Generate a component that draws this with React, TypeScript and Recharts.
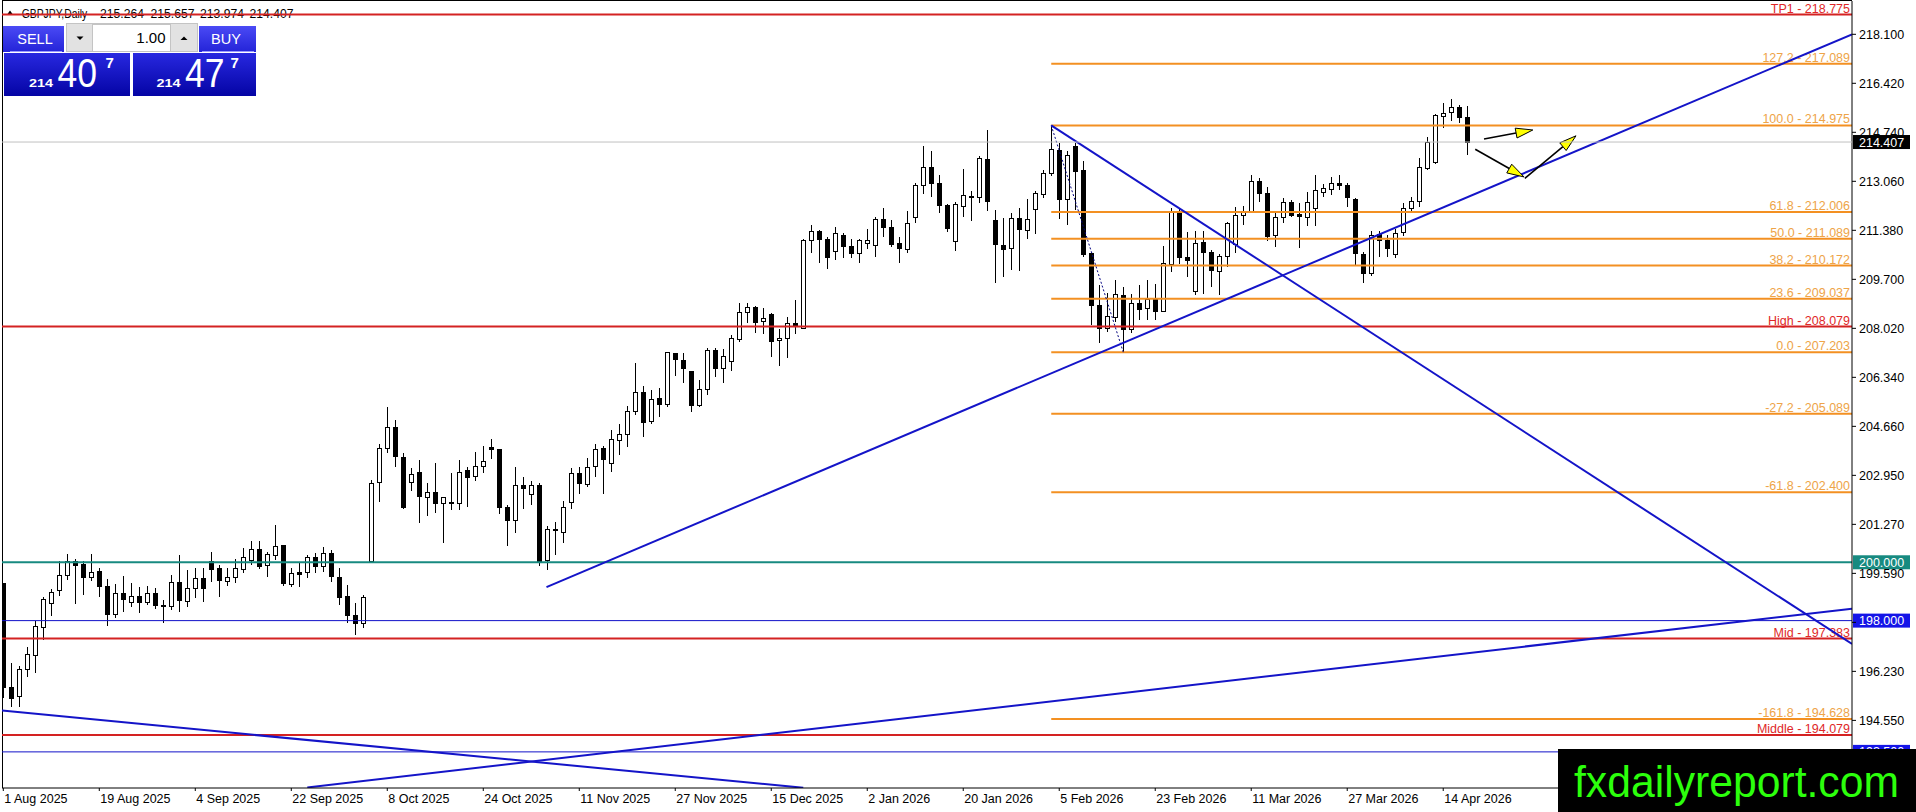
import React from 'react';
import { ComposedChart, Bar, XAxis, YAxis, ReferenceLine } from 'recharts';

const FONT = '"Liberation Sans", Arial, sans-serif';

// daily bars, 1 Aug 2025 .. 17 Apr 2026 (index = bar number)
const opens = [
  199.28, 195.74, 195.39, 196.33, 196.81, 197.77, 198.59, 199.02, 199.55, 200.05,
  199.94, 199.51, 199.70, 199.19, 198.23, 198.94, 198.65, 198.84, 198.65, 198.94,
  198.54, 198.50, 199.33, 198.68, 199.11, 199.45, 200.05, 199.79, 199.37, 199.49,
  199.79, 200.08, 200.45, 199.88, 200.27, 200.58, 199.26, 199.66, 199.66, 200.19,
  199.88, 200.31, 199.51, 198.84, 198.19, 197.91, 200.05, 202.73, 203.94, 204.63,
  203.62, 202.76, 203.08, 202.25, 202.42, 202.04, 202.08, 202.06, 203.16, 202.97,
  203.30, 203.94, 203.87, 201.88, 201.43, 202.64, 202.33, 202.64, 200.08, 201.13,
  201.05, 202.04, 203.05, 202.71, 203.30, 203.91, 203.39, 204.21, 204.40, 205.20,
  205.85, 204.85, 205.62, 205.43, 207.16, 206.93, 206.55, 205.38, 205.93, 207.28,
  206.68, 206.90, 207.68, 208.59, 208.76, 208.25, 208.51, 207.60, 207.68, 208.21,
  208.02, 211.07, 211.37, 211.07, 210.65, 211.21, 210.84, 210.61, 210.96, 210.88,
  211.77, 211.48, 210.94, 210.73, 211.85, 212.93, 213.54, 212.99, 212.25, 211.01,
  212.19, 212.55, 212.53, 213.81, 211.73, 210.88, 210.76, 211.79, 211.39, 212.10,
  212.62, 213.34, 214.13, 212.44, 214.27, 213.45, 210.61, 208.82, 208.02, 208.40,
  209.17, 207.99, 208.88, 208.71, 209.02, 208.62, 210.22, 212.00, 210.45, 209.31,
  210.99, 210.65, 209.99, 210.50, 210.91, 211.91, 212.05, 213.07, 212.65, 211.25,
  211.85, 212.36, 211.93, 211.85, 212.14, 212.70, 212.82, 213.01, 212.92, 212.44,
  210.57, 209.93, 211.24, 211.05, 210.57, 211.33, 212.14, 212.39, 213.54, 213.73,
  215.30, 215.43, 215.60, 215.264,
];
const highs = [
  199.30, 196.54, 196.45, 197.09, 198.00, 198.82, 199.10, 200.05, 200.28, 200.10,
  200.05, 200.28, 199.79, 199.43, 199.25, 199.53, 199.28, 199.16, 199.19, 199.11,
  198.71, 199.56, 200.25, 199.74, 199.79, 199.79, 200.36, 199.91, 199.79, 200.10,
  200.48, 200.74, 200.74, 200.34, 201.28, 200.60, 199.79, 199.97, 200.25, 200.33,
  200.51, 200.42, 199.79, 199.22, 198.59, 198.88, 202.82, 204.05, 205.31, 204.88,
  203.73, 203.22, 203.51, 202.71, 203.42, 202.25, 203.07, 203.51, 203.28, 203.77,
  203.98, 204.21, 203.90, 201.96, 203.26, 202.93, 202.79, 202.73, 201.24, 201.39,
  202.11, 203.22, 203.26, 203.56, 204.05, 203.98, 204.53, 204.74, 205.36, 206.84,
  206.04, 205.91, 205.97, 207.22, 207.19, 207.19, 206.57, 206.25, 207.34, 207.34,
  207.30, 207.79, 208.90, 208.88, 208.78, 208.71, 208.56, 207.99, 208.40, 209.00,
  211.07, 211.56, 211.38, 211.16, 211.48, 211.30, 211.07, 211.09, 211.42, 211.85,
  212.16, 211.73, 211.16, 212.04, 213.01, 214.27, 214.10, 213.28, 212.28, 212.36,
  213.47, 212.73, 213.93, 214.82, 212.08, 211.79, 211.98, 212.13, 212.44, 212.74,
  213.45, 214.975, 214.36, 214.11, 214.36, 213.77, 210.61, 209.51, 209.22, 209.68,
  209.45, 209.20, 209.51, 209.68, 209.54, 210.84, 212.13, 212.13, 211.33, 211.37,
  211.37, 210.70, 210.56, 211.67, 212.17, 212.21, 213.28, 213.16, 212.85, 212.02,
  212.48, 212.42, 212.33, 212.70, 213.28, 212.97, 213.20, 213.28, 213.01, 212.48,
  210.65, 211.37, 211.37, 211.22, 211.42, 212.31, 212.53, 213.85, 214.57, 215.37,
  215.75, 215.87, 215.68, 215.657,
];
const lows = [
  195.34, 195.03, 195.03, 196.08, 196.22, 197.34, 198.16, 198.84, 199.39, 198.57,
  198.87, 199.37, 198.80, 197.83, 198.10, 198.31, 198.46, 198.25, 198.54, 198.39,
  197.93, 198.36, 198.31, 198.48, 198.77, 198.65, 199.33, 198.80, 199.20, 199.30,
  199.64, 199.91, 199.76, 199.49, 200.08, 199.20, 199.14, 199.14, 199.45, 199.62,
  199.68, 199.33, 198.54, 197.91, 197.51, 197.74, 200.03, 202.08, 203.73, 203.28,
  201.83, 202.45, 201.33, 201.57, 201.70, 200.67, 201.79, 201.79, 201.91, 202.79,
  203.07, 203.53, 201.65, 200.56, 200.99, 201.81, 201.96, 199.87, 199.74, 200.25,
  200.65, 201.81, 202.33, 202.57, 202.93, 202.33, 203.11, 203.67, 203.96, 205.05,
  204.28, 204.74, 204.97, 205.31, 206.39, 206.14, 205.16, 205.31, 205.74, 206.34,
  206.16, 206.57, 207.56, 208.21, 207.87, 207.83, 207.05, 206.73, 206.99, 207.83,
  207.99, 210.59, 210.27, 210.04, 210.36, 210.42, 210.42, 210.25, 210.73, 210.48,
  211.16, 210.82, 210.27, 210.61, 211.62, 212.62, 212.51, 211.96, 211.33, 210.68,
  211.83, 211.71, 212.33, 212.05, 209.58, 209.79, 210.02, 209.99, 211.08, 211.25,
  212.48, 213.24, 211.76, 211.56, 212.08, 210.46, 208.13, 207.53, 207.90, 208.25,
  207.203, 207.85, 208.31, 208.31, 208.31, 208.59, 209.96, 210.22, 209.77, 209.16,
  209.20, 209.45, 209.16, 210.13, 210.59, 211.56, 211.96, 212.36, 211.02, 210.80,
  211.62, 211.85, 210.76, 211.53, 211.53, 212.53, 212.59, 212.76, 212.19, 210.19,
  209.58, 209.81, 210.45, 210.45, 210.42, 211.19, 211.98, 212.17, 213.45, 213.65,
  214.88, 215.14, 215.07, 213.974,
];
const closes = [
  195.70, 195.37, 196.33, 196.85, 197.82, 198.73, 198.98, 199.55, 200.03, 199.92,
  199.49, 199.68, 199.20, 198.23, 198.94, 198.73, 198.84, 198.65, 198.96, 198.53,
  198.55, 199.33, 198.71, 199.11, 199.45, 199.11, 199.79, 199.37, 199.49, 199.79,
  200.19, 200.45, 199.88, 200.27, 200.57, 199.28, 199.62, 199.60, 200.19, 199.88,
  200.33, 199.51, 198.84, 198.19, 197.91, 198.80, 202.73, 203.91, 204.65, 203.62,
  201.91, 203.03, 202.25, 202.42, 202.04, 202.25, 202.07, 203.11, 202.93, 203.30,
  203.47, 203.87, 201.88, 201.43, 202.64, 202.54, 202.64, 200.05, 201.13, 201.08,
  201.91, 203.05, 202.71, 203.28, 203.87, 203.53, 204.21, 204.40, 205.20, 205.85,
  204.82, 205.59, 205.43, 207.20, 206.96, 206.65, 205.38, 205.93, 207.28, 206.68,
  207.08, 207.68, 208.59, 208.76, 208.25, 208.36, 207.60, 207.68, 208.21, 208.13,
  211.05, 211.37, 211.11, 210.45, 211.28, 210.82, 210.61, 211.05, 211.05, 211.77,
  211.48, 210.91, 210.78, 211.62, 212.93, 213.54, 212.99, 212.24, 211.45, 212.27,
  212.58, 212.56, 213.85, 212.36, 210.90, 210.74, 211.79, 211.42, 211.76, 212.65,
  213.34, 214.16, 212.44, 213.96, 213.42, 210.57, 208.82, 208.02, 208.44, 209.20,
  207.99, 208.88, 208.67, 209.02, 208.62, 210.25, 212.00, 210.45, 210.36, 210.96,
  210.65, 210.04, 210.50, 211.64, 211.91, 212.05, 213.07, 212.65, 211.16, 211.85,
  212.36, 211.91, 211.85, 212.36, 212.76, 212.82, 213.01, 212.93, 212.51, 210.59,
  209.93, 211.22, 211.02, 210.76, 211.30, 212.14, 212.39, 213.54, 214.42, 215.33,
  215.39, 215.60, 215.25, 214.407,
];

// time axis: a label every 12 bars
const dateLabels = [
  '1 Aug 2025', '19 Aug 2025', '4 Sep 2025', '22 Sep 2025', '8 Oct 2025', '24 Oct 2025',
  '11 Nov 2025', '27 Nov 2025', '15 Dec 2025', '2 Jan 2026', '20 Jan 2026', '5 Feb 2026',
  '23 Feb 2026', '11 Mar 2026', '27 Mar 2026', '14 Apr 2026',
];
const dateTicks = [0, 12, 24, 36, 48, 60, 72, 84, 96, 108, 120, 132, 144, 156, 168, 180];

// price axis (197.910 and 192.870 sit under the 198.000 box and the watermark)
const priceTicks = [
  218.1, 216.42, 214.74, 213.06, 211.38, 209.7, 208.02, 206.34,
  204.66, 202.98, 201.3, 199.62, 197.94, 196.26, 194.58, 192.9,
];
const priceTickLabels = [
  '218.100', '216.420', '214.740', '213.060', '211.380', '209.700', '208.020', '206.340',
  '204.660', '202.950', '201.270', '199.590', '', '196.230', '194.550', '',
];

// fibonacci from the 5 Feb high (bar 131) to the low (bar 140)
const fibRatios = ['127.2', '100.0', '61.8', '50.0', '38.2', '23.6', '0.0', '-27.2', '-61.8', '-161.8'];
const fibPrices = [217.089, 214.975, 212.006, 211.089, 210.172, 209.037, 207.203, 205.089, 202.4, 194.628];
const fibStart = 131;
const fibEnd = 140;

const redNames = ['TP1', 'High', 'Mid', 'Middle'];
const redPrices = [218.775, 208.079, 197.383, 194.079];

const lastPrice = 214.407;
const roundLevel = 200.0;
const blueLevels = [198.0, 193.5];

// trendlines: [bar, price] pairs
const trendLines = [
  [[67.9, 199.15], [231.1, 218.1]],
  [[131, 214.975], [231.1, 197.2]],
  [[38, 192.28], [231.1, 198.41]],
  [[-0.16, 194.915], [100, 192.27]],
];
// hand-drawn arrows near the last bar
const arrows = [
  [[185.1, 214.51], [191.2, 214.82]],
  [[184.0, 214.16], [190.1, 213.21]],
  [[190.2, 213.16], [196.6, 214.62]],
];

const X_DOMAIN = [-0.1625, 231.1];
const Y_DOMAIN = [192.2618, 219.2416];

const candles = opens.map((o, i) => ({
  i,
  open: o,
  high: highs[i],
  low: lows[i],
  close: closes[i],
  range: [lows[i], highs[i]],
}));

const Candle = (props: any) => {
  const { x, y, width, height, payload } = props;
  if (!payload || height == null) return null;
  const { open, close, high, low } = payload;
  const h = Math.abs(height);
  const top0 = height >= 0 ? y : y + height;
  const cx = Math.round(x + width / 2);
  const k = h / (high - low || 1);
  const bTop = top0 + (high - Math.max(open, close)) * k;
  const bBot = top0 + (high - Math.min(open, close)) * k;
  const bull = close >= open;
  return (
    <g shapeRendering="crispEdges">
      <line x1={cx + 0.5} x2={cx + 0.5} y1={top0} y2={top0 + h} stroke="#000" strokeWidth={1} />
      <rect
        x={cx - 1.5}
        y={Math.round(bTop) + 0.5}
        width={4}
        height={Math.max(Math.round(bBot - bTop), 1)}
        fill={bull ? '#fff' : '#000'}
        stroke="#000"
        strokeWidth={1}
      />
    </g>
  );
};

const DateTick = (props: any) => {
  const { x, y, payload } = props;
  const k = dateTicks.indexOf(payload.value);
  return (
    <text x={x + 1} y={y} dy="0.71em" textAnchor="start" fontSize={12.5} fontFamily={FONT} fill="#000">
      {k >= 0 ? dateLabels[k] : ''}
    </text>
  );
};

const levelLabel = (text: string, color: string) => (props: any) => {
  const vb = props.viewBox || {};
  return (
    <text
      x={vb.x + vb.width - 2}
      y={vb.y - 2}
      textAnchor="end"
      fontSize={12.5}
      fontFamily={FONT}
      fill={color}
    >
      {text}
    </text>
  );
};

const axisBox = (text: string, bg: string) => (props: any) => {
  const vb = props.viewBox || {};
  const x = vb.x + vb.width + 1;
  return (
    <g>
      <rect x={x} y={vb.y - 7} width={57} height={14} fill={bg} />
      <text x={x + 6} y={vb.y} dy="0.36em" fontSize={12.5} fontFamily={FONT} fill="#fff">
        {text}
      </text>
    </g>
  );
};

const ArrowShape = (props: any) => {
  const { x1, y1, x2, y2 } = props;
  if ([x1, y1, x2, y2].some((v) => v == null || isNaN(v))) return null;
  const a = Math.atan2(y2 - y1, x2 - x1);
  const len = 17;
  const half = 5;
  const bx = x2 - len * Math.cos(a);
  const by = y2 - len * Math.sin(a);
  const px = -Math.sin(a) * half;
  const py = Math.cos(a) * half;
  return (
    <g>
      <line x1={x1} y1={y1} x2={bx} y2={by} stroke="#000" strokeWidth={1.6} />
      <polygon
        points={`${x2},${y2} ${bx + px},${by + py} ${bx - px},${by - py}`}
        fill="#ffff00"
        stroke="#000"
        strokeWidth={1}
      />
    </g>
  );
};

const TitleBar = () => (
  <svg width={320} height={24} style={{ position: 'absolute', left: 0, top: 0 }}>
    <polygon points="7.5,14 12.5,14 10,10.5" fill="#000" />
    <g fontSize={12.5} fontFamily={FONT} fill="#000">
      <text x={21.7} y={17.5} textLength={65.5} lengthAdjust="spacingAndGlyphs">GBPJPY,Daily</text>
      <text x={100} y={17.5} textLength={44} lengthAdjust="spacingAndGlyphs">215.264</text>
      <text x={150.5} y={17.5} textLength={44} lengthAdjust="spacingAndGlyphs">215.657</text>
      <text x={200} y={17.5} textLength={44} lengthAdjust="spacingAndGlyphs">213.974</text>
      <text x={249.5} y={17.5} textLength={44} lengthAdjust="spacingAndGlyphs">214.407</text>
    </g>
  </svg>
);

const TradePanel = () => (
  <svg width={260} height={100} style={{ position: 'absolute', left: 0, top: 0 }}>
    <defs>
      <linearGradient id="btnTop" x1="0" y1="0" x2="0" y2="1">
        <stop offset="0%" stopColor="#4a4af5" />
        <stop offset="100%" stopColor="#2424d8" />
      </linearGradient>
      <linearGradient id="btnPrice" x1="0" y1="0" x2="0" y2="1">
        <stop offset="0%" stopColor="#2828e0" />
        <stop offset="100%" stopColor="#0404a4" />
      </linearGradient>
    </defs>
    <rect x={3} y={26} width={61} height={26} fill="url(#btnTop)" />
    <line x1={10} x2={62} y1={51.5} y2={51.5} stroke="#9a9aff" />
    <text x={35} y={44} textAnchor="middle" fontSize={14.5} fontFamily={FONT} fill="#fff">SELL</text>
    <rect x={66.5} y={23.5} width={131} height={28} fill="#e2e2e2" stroke="#c4c4c4" />
    <rect x={92.5} y={24.5} width={78} height={27} fill="#fff" stroke="#c4c4c4" />
    <polygon points="76.5,36.5 83.5,36.5 80,40" fill="#000" />
    <polygon points="180.5,40 187.5,40 184,36.5" fill="#000" />
    <text x={165.5} y={42.7} textAnchor="end" fontSize={15} fontFamily={FONT} fill="#000">1.00</text>
    <rect x={199} y={26} width={57} height={26} fill="url(#btnTop)" />
    <line x1={202} x2={254} y1={51.5} y2={51.5} stroke="#9a9aff" />
    <text x={226} y={44} textAnchor="middle" fontSize={14.5} fontFamily={FONT} fill="#fff">BUY</text>
    <rect x={4} y={53} width={126} height={43} fill="url(#btnPrice)" />
    <rect x={133} y={53} width={123} height={43} fill="url(#btnPrice)" />
    <g fontFamily={FONT} fill="#fff">
      <text x={29} y={86.7} fontSize={11.5} fontWeight="bold" textLength={24} lengthAdjust="spacingAndGlyphs">214</text>
      <text x={57.5} y={86.7} fontSize={41} textLength={39.5} lengthAdjust="spacingAndGlyphs">40</text>
      <text x={105.5} y={68.3} fontSize={15} fontWeight="bold">7</text>
      <text x={156.5} y={86.7} fontSize={11.5} fontWeight="bold" textLength={24} lengthAdjust="spacingAndGlyphs">214</text>
      <text x={185} y={86.7} fontSize={41} textLength={39.5} lengthAdjust="spacingAndGlyphs">47</text>
      <text x={230.5} y={68.3} fontSize={15} fontWeight="bold">7</text>
    </g>
  </svg>
);

const Watermark = () => (
  <svg width={358} height={63} style={{ position: 'absolute', left: 1558, top: 749 }}>
    <rect x={0} y={0} width={358} height={63} fill="#000" />
    <text
      x={16}
      y={48}
      fontSize={44}
      fontFamily={FONT}
      fill="#2cff0c"
      textLength={325}
      lengthAdjust="spacingAndGlyphs"
    >
      fxdailyreport.com
    </text>
  </svg>
);

export default function App() {
  return (
    <div style={{ position: 'absolute', left: 0, top: 0, width: 1916, height: 812, background: '#fff', overflow: 'hidden' }}>
      <div
        style={{
          position: 'absolute',
          left: 2,
          top: 0,
          width: 1850,
          height: 788,
          borderLeft: '1px solid #000',
          borderTop: '1px solid #000',
          boxSizing: 'border-box',
        }}
      />
      <TitleBar />
      <div style={{ position: 'absolute', left: 0, top: 0 }}>
        <ComposedChart width={1916} height={812} data={candles} margin={{ top: 1, left: 2, right: 0, bottom: 0 }}>
          <XAxis
            type="number"
            dataKey="i"
            domain={X_DOMAIN}
            allowDataOverflow
            ticks={dateTicks}
            interval={0}
            height={24}
            tickSize={3}
            tickMargin={3}
            axisLine={{ stroke: '#000' }}
            tickLine={{ stroke: '#000' }}
            tick={<DateTick />}
          />
          <YAxis
            orientation="right"
            type="number"
            domain={Y_DOMAIN}
            allowDataOverflow
            ticks={priceTicks}
            interval={0}
            width={64}
            tickSize={4}
            tickMargin={3}
            axisLine={{ stroke: '#000' }}
            tickLine={{ stroke: '#000' }}
            tick={{ fill: '#000', fontSize: 12.5, fontFamily: FONT }}
            tickFormatter={(v: number) => {
              const k = priceTicks.indexOf(v);
              return k >= 0 ? priceTickLabels[k] : '';
            }}
          />

          <Bar dataKey="range" barSize={5} shape={<Candle />} isAnimationActive={false} />

          <ReferenceLine
            y={lastPrice}
            stroke="#c0c0c0"
            strokeWidth={1}
            zIndex={2000}
            label={axisBox('214.407', '#000')}
          />

          {redPrices.map((p, k) => (
            <ReferenceLine
              key={`red-${k}`}
              y={p}
              stroke="#d42222"
              strokeWidth={2}
              label={levelLabel(`${redNames[k]} - ${p.toFixed(3)}`, '#e02828')}
            />
          ))}
          <ReferenceLine y={roundLevel} stroke="#178a80" strokeWidth={2} label={axisBox('200.000', '#178a80')} />
          {blueLevels.map((p, k) => (
            <ReferenceLine
              key={`blue-${k}`}
              y={p}
              stroke="#1010c8"
              strokeWidth={1}
              label={axisBox(p.toFixed(3), '#1414e8')}
            />
          ))}

          {fibPrices.map((p, k) => (
            <ReferenceLine
              key={`fib-${k}`}
              segment={[{ x: fibStart, y: p }, { x: X_DOMAIN[1], y: p }]}
              ifOverflow="hidden"
              stroke="#f39022"
              strokeWidth={2}
              label={levelLabel(`${fibRatios[k]} - ${p.toFixed(3)}`, '#eea448')}
            />
          ))}
          <ReferenceLine
            segment={[{ x: fibStart, y: fibPrices[1] }, { x: fibEnd, y: fibPrices[6] }]}
            ifOverflow="hidden"
            stroke="#000080"
            strokeWidth={1}
            strokeDasharray="2 2"
          />

          {trendLines.map((seg, k) => (
            <ReferenceLine
              key={`tl-${k}`}
              segment={[{ x: seg[0][0], y: seg[0][1] }, { x: seg[1][0], y: seg[1][1] }]}
              ifOverflow="hidden"
              stroke="#1414c8"
              strokeWidth={2}
            />
          ))}

          {arrows.map((seg, k) => (
            <ReferenceLine
              key={`ar-${k}`}
              segment={[{ x: seg[0][0], y: seg[0][1] }, { x: seg[1][0], y: seg[1][1] }]}
              ifOverflow="hidden"
              shape={ArrowShape}
            />
          ))}
        </ComposedChart>
      </div>
      <TradePanel />
      <Watermark />
    </div>
  );
}
